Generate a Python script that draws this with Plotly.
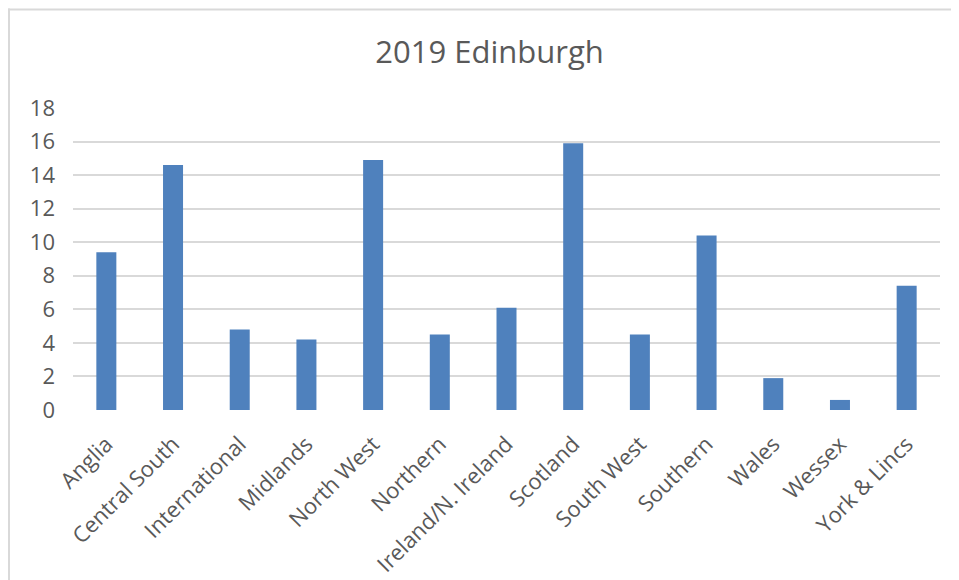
import plotly.graph_objects as go

categories = ["Anglia", "Central South", "International", "Midlands", "North West",
              "Northern", "Ireland/N. Ireland", "Scotland", "South West", "Southern",
              "Wales", "Wessex", "York & Lincs"]
values = [9.4, 14.6, 4.8, 4.2, 14.9, 4.5, 6.1, 15.9, 4.5, 10.4, 1.9, 0.6, 7.4]
y_ticks = [0, 2, 4, 6, 8, 10, 12, 14, 16, 18]
title_text = "2019 Edinburgh"

# page has an 8px body margin, so the figure is sized to fit the window
W, H = 951, 572
L, R, T, B = 65, 19, 99.7, 170
pw, ph = W - L - R, H - T - B

def px_x(px):
    return (px - L) / pw

def px_y(py):
    return (H - B - py) / ph

FONT = "Open Sans"
GREY = "#595959"

fig = go.Figure(go.Bar(
    x=categories, y=values,
    marker=dict(color="#4f81bd", line=dict(width=0)),
    width=0.3,
))

fig.update_layout(
    width=W, height=H,
    margin=dict(l=L, r=R, t=T, b=B, autoexpand=False),
    paper_bgcolor="white", plot_bgcolor="white",
    showlegend=False,
    title=dict(text=title_text, x=481.5 / W, xref="container", xanchor="center",
               y=1 - 44 / H, yref="container", yanchor="middle",
               font=dict(family=FONT, size=31, color=GREY)),
    font=dict(family=FONT, color=GREY),
    xaxis=dict(tickangle=-45, tickfont=dict(family=FONT, size=22, color=GREY),
               showgrid=False, showline=False, zeroline=False, ticks="",
               ticklabelstandoff=16, automargin=False),
    yaxis=dict(range=[0, 18], tickvals=y_ticks, showgrid=True, gridcolor="#d9d9d9",
               gridwidth=1.5, zeroline=False, showline=False,
               tickfont=dict(family=FONT, size=22, color=GREY),
               ticklabelstandoff=17, automargin=False),
    shapes=[
        dict(type="line", xref="paper", yref="paper", x0=px_x(0), x1=px_x(W + 2),
             y0=px_y(1), y1=px_y(1), line=dict(color="#d9d9d9", width=2)),
        dict(type="line", xref="paper", yref="paper", x0=px_x(1), x1=px_x(1),
             y0=px_y(0), y1=px_y(H + 2), line=dict(color="#d9d9d9", width=2)),
    ],
)

fig.write_html("out.html")
